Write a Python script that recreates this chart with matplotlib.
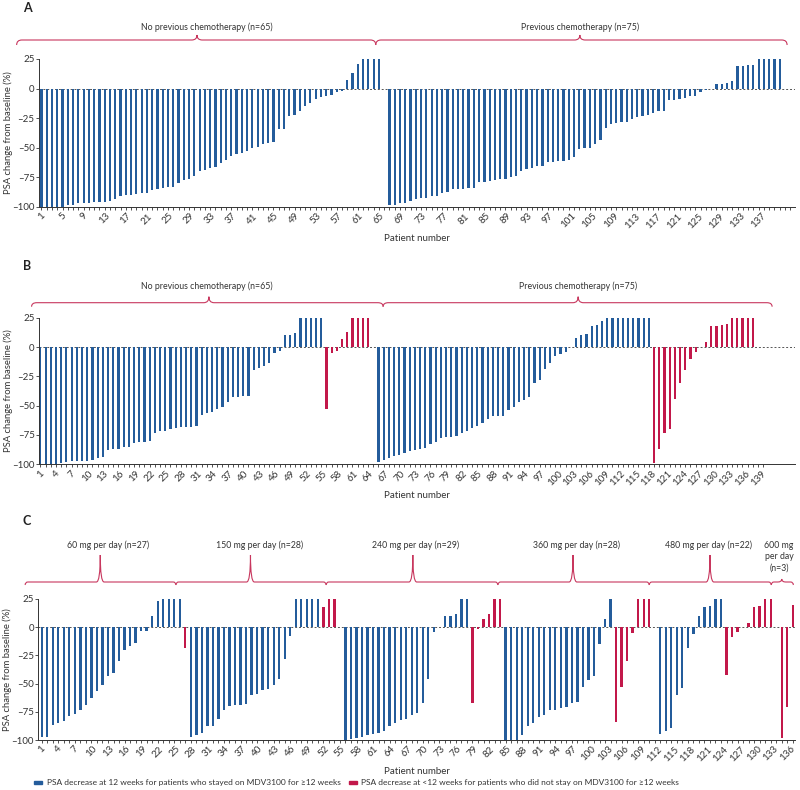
import matplotlib
matplotlib.use('Agg')
import matplotlib.pyplot as plt
import matplotlib.transforms as mtransforms
from matplotlib.path import Path
from matplotlib.patches import PathPatch, Patch

plt.rcParams['font.family'] = ['Lato', 'DejaVu Sans']

BLUE = '#245c9b'
RED = '#c2184a'
BRACE = '#c8375e'
W, H = 800, 790

# ---- Panel A: all patients, by chemotherapy history ----
a_no_chemo = [-100, -100, -100, -100, -100, -98, -98, -97, -97, -97,
              -96, -96, -96, -95, -93, -91, -90, -90, -89, -88,
              -88, -86, -85, -84, -83, -83, -80, -77, -76, -74,
              -70, -69, -67, -66, -63, -60, -57, -55, -54, -53,
              -50, -49, -47, -46, -45, -34, -34, -23, -22, -19,
              -15, -12, -9, -7, -6, -5, -3, -2,
              7, 13, 21, 25, 25, 25, 25]
a_prev_chemo = [-98, -98, -97, -97, -95, -93, -92, -92, -91, -91,
                -88, -87, -85, -85, -85, -84, -84, -79, -79, -78,
                -77, -76, -76, -75, -74, -70, -68, -67, -65, -65,
                -62, -62, -61, -61, -60, -58, -51, -50, -50, -47,
                -43, -33, -30, -29, -28, -28, -26, -24, -23, -22,
                -21, -19, -19, -10, -10, -9, -8, -6, -6, -3,
                -1, 0, 4, 4, 5, 6, 19, 19, 20, 20,
                25, 25, 25, 25, 25]

# ---- Panel B: stayed >=12 weeks (blue) / stopped earlier (red) ----
b_no_chemo_stayed = [-100, -100, -100, -100, -99, -98, -97, -97, -97, -97,
                     -96, -95, -94, -88, -87, -87, -85, -85, -82, -81,
                     -81, -80, -73, -72, -72, -70, -69, -68, -68, -68,
                     -67, -58, -56, -55, -53, -51, -47, -43, -43, -42,
                     -42, -20, -18, -16, -14, -5, -3,
                     10, 10, 12, 25, 25, 25, 25, 25]
b_no_chemo_stopped = [-53, -5, -3, 7, 13, 25, 25, 25, 25]
b_prev_chemo_stayed = [-98, -96, -95, -93, -92, -90, -89, -88, -87, -86,
                       -83, -81, -78, -77, -77, -76, -73, -72, -69, -67,
                       -65, -61, -59, -59, -59, -54, -51, -47, -45, -43,
                       -31, -28, -19, -14, -8, -6, -4, 0,
                       8, 10, 11, 18, 19, 22, 25, 25, 25, 25,
                       25, 25, 25, 25, 25]
b_prev_chemo_stopped = [-99, -87, -73, -70, -44, -31, -20, -10, -4, 0,
                        4, 18, 18, 19, 20, 25, 25, 25, 25, 25]

# ---- Panel C: by dose ----
c_dose_labels = ['60 mg per day (n=27)', '150 mg per day (n=28)', '240 mg per day (n=29)',
                 '360 mg per day (n=28)', '480 mg per day (n=22)', '600 mg\nper day\n(n=3)']
c60_stayed = [-97, -97, -87, -85, -83, -79, -77, -73, -69, -63, -57, -51, -43,
              -41, -30, -20, -17, -14, -3, -3, 10, 23, 25, 25, 25, 25]
c60_stopped = [-18]
c150_stayed = [-97, -96, -94, -88, -88, -81, -73, -70, -69, -69, -68, -60,
               -59, -56, -55, -51, -46, -28, -8, 25, 25, 25, 25, 25]
c150_stopped = [18, 25, 25, 0]
c240_stayed = [-100, -99, -98, -97, -96, -95, -94, -92, -88, -85, -82, -81,
               -78, -76, -67, -46, -4, 0, 10, 10, 12, 25, 25]
c240_stopped = [-67, -2, 7, 12, 25, 25]
c360_stayed = [-100, -100, -100, -96, -88, -85, -80, -78, -73, -73, -72, -71,
               -67, -66, -53, -47, -43, -15, 7, 25]
c360_stopped = [-84, -53, -30, -5, 25, 25, 25, 0]
c480_stayed = [-95, -92, -89, -60, -54, -18, -6, 10, 18, 19, 25, 25]
c480_stopped = [-42, -9, -4, 0, 4, 18, 19, 25, 25, 0]
c600_stayed = []
c600_stopped = [-98, -71, 20]

legend_labels = ['PSA decrease at 12 weeks for patients who stayed on MDV3100 for \u226512 weeks',
                 'PSA decrease at <12 weeks for patients who did not stay on MDV3100 for \u226512 weeks']

TXT = '#333333'


def fx(px):
    return px / W


def fy(py):
    return 1 - py / H


def draw_groups(ax, groups, starts):
    for (stayed, stopped), x0 in zip(groups, starts):
        vals = stayed + stopped
        cols = [BLUE] * len(stayed) + [RED] * len(stopped)
        xs = list(range(x0, x0 + len(vals)))
        ax.bar(xs, vals, width=0.42, color=cols, linewidth=0, zorder=2)


def style(ax, xlim, last_label, last_tick, step):
    ax.axhline(0, color='#555555', lw=0.7, ls=(0, (2, 2)), zorder=1)
    ax.set_xlim(*xlim)
    ax.set_ylim(-100, 25)
    ax.set_yticks([25, 0, -25, -50, -75, -100])
    ax.set_yticklabels(['25', '0', '\u201325', '\u201350', '\u201375', '\u2013100'])
    ax.set_xticks(range(1, last_label + 1, step))
    ax.set_xticks(range(1, last_tick + 1), minor=True)
    ax.tick_params(axis='both', which='both', length=2.2, width=0.6, color=TXT,
                   labelsize=7, pad=1, labelcolor=TXT)
    ax.tick_params(axis='x', labelrotation=45)
    for s in ('top', 'right'):
        ax.spines[s].set_visible(False)
    for s in ('left', 'bottom'):
        ax.spines[s].set_linewidth(0.7)
        ax.spines[s].set_color(TXT)
    ax.set_ylabel('PSA change from baseline (%)', fontsize=6.8, color=TXT)
    ax.yaxis.set_label_coords(-26 / 756, 0.5)
    ax.set_xlabel('Patient number', fontsize=7, labelpad=3, color=TXT)


def brace(ax, x0, xm, x1, y, hook, tip, dx_end, dx_tip):
    tr = mtransforms.blended_transform_factory(ax.transData, ax.figure.transFigure)
    yl = fy(y)
    hk = hook / H
    tp = tip / H
    verts = [(x0, yl - hk), (x0, yl), (x0 + dx_end, yl),
             (xm - dx_tip, yl), (xm, yl), (xm, yl + tp),
             (xm, yl), (xm + dx_tip, yl),
             (x1 - dx_end, yl), (x1, yl), (x1, yl - hk)]
    codes = [Path.MOVETO, Path.CURVE3, Path.CURVE3,
             Path.LINETO, Path.CURVE3, Path.CURVE3,
             Path.CURVE3, Path.CURVE3,
             Path.LINETO, Path.CURVE3, Path.CURVE3]
    ax.figure.add_artist(PathPatch(Path(verts, codes), transform=tr, fill=False,
                                   ec=BRACE, lw=0.8, clip_on=False))


def group_text(ax, x, y, s):
    tr = mtransforms.blended_transform_factory(ax.transData, ax.figure.transFigure)
    ax.text(x, fy(y), s, transform=tr, ha='center', va='center', fontsize=6.3,
            color=TXT, linespacing=1.3, clip_on=False)


fig = plt.figure(figsize=(W / 100, H / 100), dpi=100)

# Panel A
axA = fig.add_axes([fx(39), fy(207), fx(756), (207 - 59) / H])
draw_groups(axA, [(a_no_chemo, []), (a_prev_chemo, [])], [1, 67])
style(axA, (0.54, 143.9), 137, 143, 4)
brace(axA, -3.7, 30.5, 64.4, 40, 5, 5, 1.0, 1.0)
brace(axA, 64.4, 103.1, 142.4, 40, 5, 5, 1.0, 1.0)
group_text(axA, 32.4, 27, 'No previous chemotherapy (n=65)')
group_text(axA, 103.2, 27, 'Previous chemotherapy (n=75)')

# Panel B
axB = fig.add_axes([fx(39), fy(464.3), fx(756), (464.3 - 317.7) / H])
draw_groups(axB, [(b_no_chemo_stayed, b_no_chemo_stopped),
                  (b_prev_chemo_stayed, b_prev_chemo_stopped)], [1, 66])
style(axB, (0.73, 146.1), 139, 140, 3)
brace(axB, -0.7, 33.4, 66.9, 302.7, 4, 6, 1.0, 1.0)
brace(axB, 66.9, 104.4, 141.7, 302.7, 4, 6, 1.0, 1.0)
group_text(axB, 33.0, 286.7, 'No previous chemotherapy (n=65)')
group_text(axB, 104.4, 286.7, 'Previous chemotherapy (n=75)')

# Panel C
axC = fig.add_axes([fx(38.3), fy(740), fx(795 - 38.3), (740 - 599) / H])
c_groups = [(c60_stayed, c60_stopped), (c150_stayed, c150_stopped),
            (c240_stayed, c240_stopped), (c360_stayed, c360_stopped),
            (c480_stayed, c480_stopped), (c600_stayed, c600_stopped)]
c_starts = [1]
for st, sp in c_groups[:-1]:
    c_starts.append(c_starts[-1] + len(st) + len(sp))
draw_groups(axC, c_groups, c_starts)
style(axC, (0.38, 137.4), 136, 137, 3)
c_edges = [-2.0, 25.3, 52.5, 83.6, 111.0, 133.1, 137.1]
c_tips = [11.6, 38.8, 68.2, 97.2, 122.0, 135.0]
c_tip_h = [27, 27, 27, 27, 27, 3]
c_text_x = [13.0, 40.4, 68.7, 97.9, 121.8, 134.5]
for i in range(6):
    brace(axC, c_edges[i], c_tips[i], c_edges[i + 1], 582, 3, c_tip_h[i], 0.5, 0.7)
    if i < 5:
        group_text(axC, c_text_x[i], 545, c_dose_labels[i])
    else:
        group_text(axC, c_text_x[i], 556.5, c_dose_labels[i])

for letter, y in [('A', 8), ('B', 266), ('C', 521)]:
    fig.text(fx(27), fy(y), letter, fontsize=9, fontweight='bold', ha='center', va='center',
             color='#222222')

fig.legend([Patch(color=BLUE), Patch(color=RED)], legend_labels, loc='center left',
           bbox_to_anchor=(fx(34), fy(783)), ncol=2, frameon=False, fontsize=6.05,
           handlelength=1.0, handleheight=0.35, handletextpad=0.5, columnspacing=1.0,
           borderpad=0, borderaxespad=0, labelcolor=TXT)

fig.savefig('out.png', dpi=100)
